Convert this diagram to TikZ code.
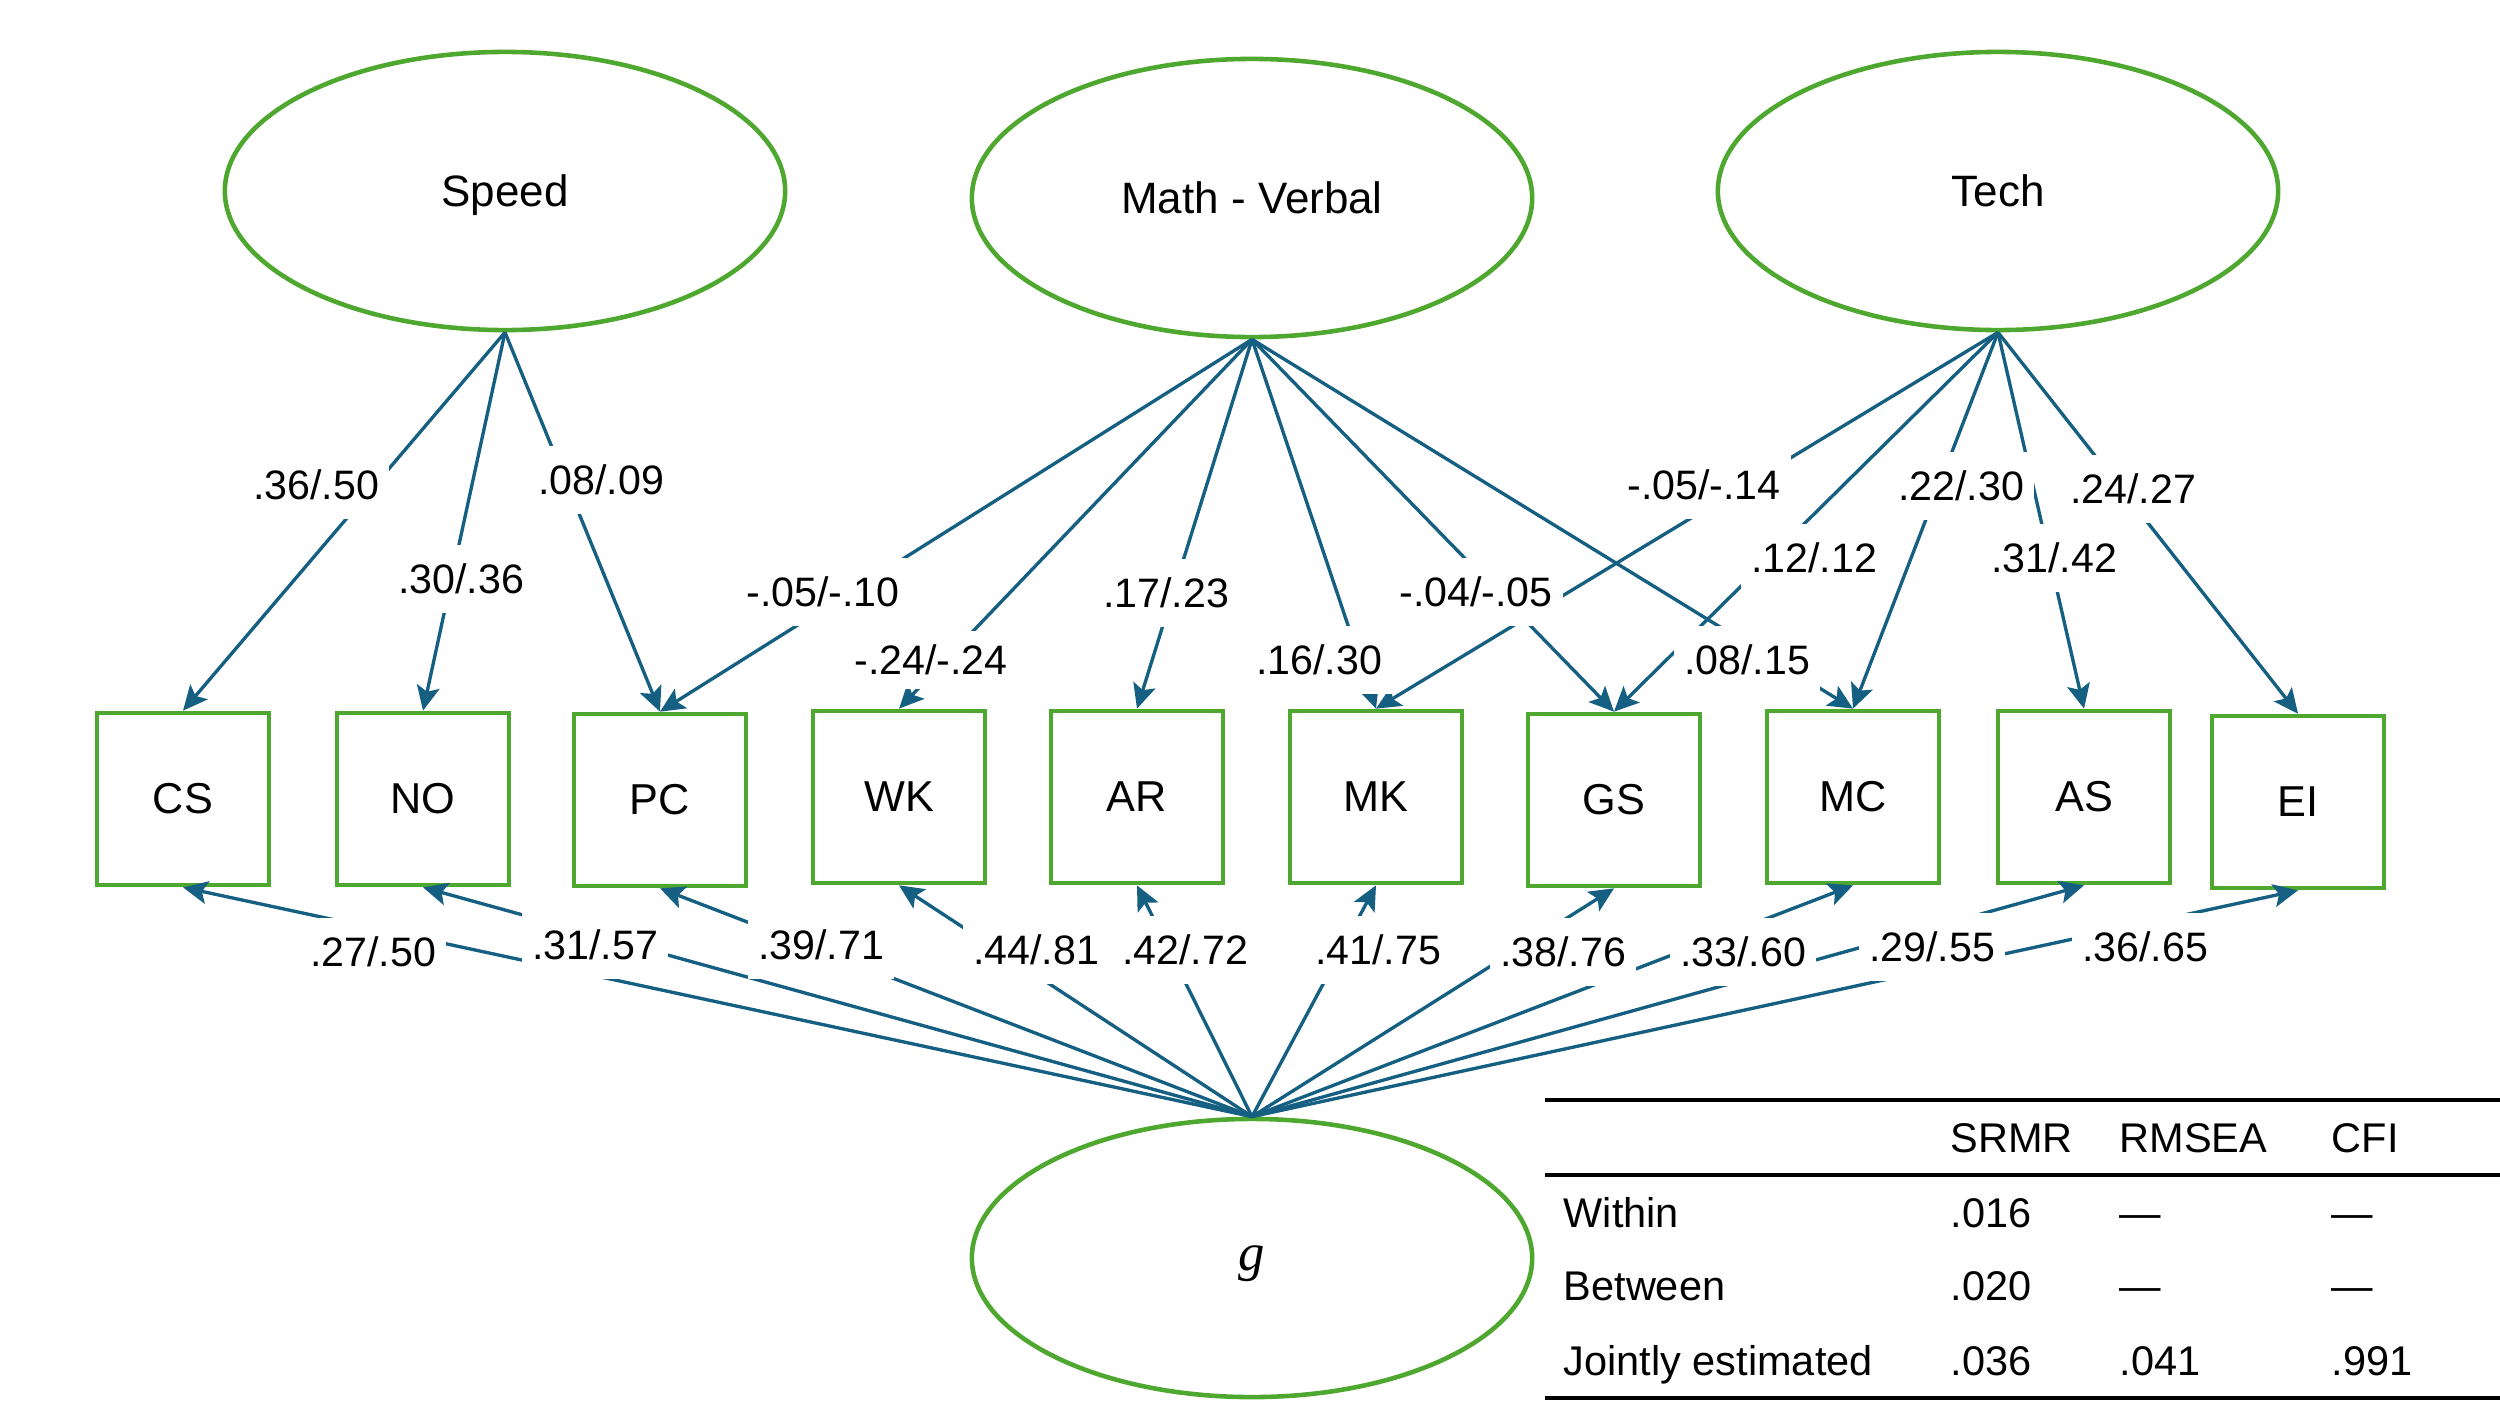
\documentclass[tikz,border=0pt]{standalone}
\usepackage{fontspec}
\setmainfont{Liberation Sans}
\newfontfamily\gfont{Liberation Serif}
\usetikzlibrary{arrows.meta,shapes.geometric}
\definecolor{lvgreen}{HTML}{4EA72E}
\definecolor{arblue}{HTML}{156082}
\begin{document}
\begin{tikzpicture}[x=0.01cm,y=-0.01cm,
  latent/.style={draw=lvgreen, line width=1.3pt, ellipse, minimum width=5.6cm, minimum height=2.78cm, inner sep=0pt, text depth=0pt, font=\fontsize{12.5}{15}\selectfont},
  obs/.style={draw=lvgreen, line width=1.3pt, minimum width=1.72cm, minimum height=1.72cm, inner sep=0pt, font=\fontsize{12.3}{15}\selectfont},
  load/.style={draw=arblue, line width=0.95pt, -{Stealth[length=7pt,width=6.5pt,inset=1.5pt]}},
  lab/.style={fill=white, inner xsep=0.1cm, inner ysep=0.19cm, font=\fontsize{11.7}{14}\selectfont},
  tab/.style={anchor=west, inner sep=0pt, text height=0.72em, text depth=0pt, font=\fontsize{11.8}{14}\selectfont},
  rulel/.style={draw=black, line width=1pt}
]
\useasboundingbox (0,0) rectangle (2500,1406);
% latent variables
\node[latent] (sp) at (505,191) {Speed};
\node[latent] (mv) at (1252,198) {Math - Verbal};
\node[latent] (te) at (1998,191) {Tech};
\node[latent] (g) at (1252,1258) {\gfont\itshape\fontsize{15}{18}\selectfont g};
% observed
\node[obs] (CS) at (183,799) {CS};
\node[obs] (NO) at (423,799) {NO};
\node[obs] (PC) at (660,800) {PC};
\node[obs] (WK) at (899,797) {WK};
\node[obs] (AR) at (1137,797) {AR};
\node[obs] (MK) at (1376,797) {MK};
\node[obs] (GS) at (1614,800) {GS};
\node[obs] (MC) at (1853,797) {MC};
\node[obs] (AS) at (2084,797) {AS};
\node[obs] (EI) at (2298,802) {EI};
% loadings
\draw[load] (sp.south) -- (CS.north);
\draw[load] (sp.south) -- (NO.north);
\draw[load] (sp.south) -- (PC.north);
\draw[load] (mv.south) -- (PC.north);
\draw[load] (mv.south) -- (WK.north);
\draw[load] (mv.south) -- (AR.north);
\draw[load] (mv.south) -- (MK.north);
\draw[load] (mv.south) -- (GS.north);
\draw[load] (mv.south) -- (MC.north);
\draw[load] (te.south) -- (MK.north);
\draw[load] (te.south) -- (GS.north);
\draw[load] (te.south) -- (MC.north);
\draw[load] (te.south) -- (AS.north);
\draw[load] (te.south) -- (EI.north);
\foreach \b in {CS,NO,PC,WK,AR,MK,GS,MC,AS,EI}
  \draw[load] (g.north) -- (\b.south);
% labels
\node[lab] (l1) at (316,485) {.36/.50};
\node[lab] (l2) at (461,579) {.30/.36};
\node[lab] (l3) at (601,480) {.08/.09};
\node[lab] (l4) at (823,592) {-.05/-.10};
\node[lab, inner ysep=0.14cm] (l5) at (931,660) {-.24/-.24};
\node[lab] (l6) at (1166,593) {.17/.23};
\node[lab] (l7) at (1319,660) {.16/.30};
\node[lab] (l8) at (1476,592) {-.04/-.05};
\node[lab] (l9) at (1747,660) {.08/.15};
\node[lab] (l10) at (1704,485) {-.05/-.14};
\node[lab] (l11) at (1814,558) {.12/.12};
\node[lab] (l12) at (1961,486) {.22/.30};
\node[lab] (l13) at (2054,558) {.31/.42};
\node[lab] (l14) at (2133,489) {.24/.27};
\node[lab] (m1) at (373,952) {.27/.50};
\node[lab] (m2) at (595,945) {.31/.57};
\node[lab] (m3) at (821,945) {.39/.71};
\node[lab] (m4) at (1036,950) {.44/.81};
\node[lab] (m5) at (1185,950) {.42/.72};
\node[lab] (m6) at (1378,950) {.41/.75};
\node[lab] (m7) at (1563,952) {.38/.76};
\node[lab] (m8) at (1743,952) {.33/.60};
\node[lab] (m9) at (1932,947) {.29/.55};
\node[lab] (m10) at (2145,947) {.36/.65};
% fit table
\coordinate (r1a) at (1545,1100); \coordinate (r1b) at (2500,1100);
\coordinate (r2a) at (1545,1175); \coordinate (r2b) at (2500,1175);
\coordinate (r3a) at (1545,1398); \coordinate (r3b) at (2500,1398);
\draw[rulel] (r1a) -- (r1b);
\draw[rulel] (r2a) -- (r2b);
\draw[rulel] (r3a) -- (r3b);
\node[tab] (h1) at (1950,1140) {SRMR};
\node[tab] (h2) at (2119,1140) {RMSEA};
\node[tab] (h3) at (2331,1140) {CFI};
\node[tab] (a0) at (1563,1215) {Within};
\node[tab] (a1) at (1950,1215) {.016};
\node[tab] (a2) at (2119,1215) {—};
\node[tab] (a3) at (2331,1215) {—};
\node[tab] (b0) at (1563,1288) {Between};
\node[tab] (b1) at (1950,1288) {.020};
\node[tab] (b2) at (2119,1288) {—};
\node[tab] (b3) at (2331,1288) {—};
\node[tab] (c0) at (1563,1363) {Jointly estimated};
\node[tab] (c1) at (1950,1363) {.036};
\node[tab] (c2) at (2119,1363) {.041};
\node[tab] (c3) at (2331,1363) {.991};
\end{tikzpicture}
\end{document}
